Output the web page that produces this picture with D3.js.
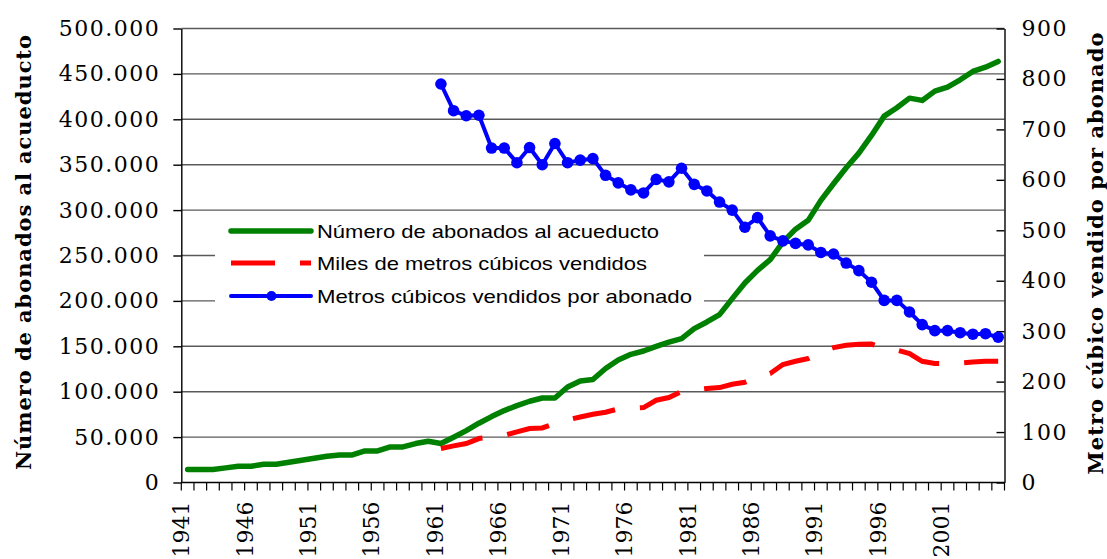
<!DOCTYPE html>
<html>
<head>
<meta charset="utf-8">
<script src="https://cdn.jsdelivr.net/npm/d3@7"></script>
<style>
  body { margin: 0; background: #fff; }
  svg { display: block; }
</style>
</head>
<body>
<svg id="chart" width="1107" height="559"></svg>
<script>
// categories
const years = d3.range(1941, 2006);
const firstYearVentas = 1961;

// Número de abonados al acueducto (1941-2005)
const abonados = [
    14300, 14300, 14300, 16100, 17900, 17900, 20100, 20100, 22300, 24500,
    26700, 28900, 30400, 30400, 34800, 34800, 39200, 39200, 42900, 45400,
    42900, 49900, 57200, 65300, 72600, 79200, 84700, 89500, 93100, 93100,
    105200, 111800, 113400, 125500, 135000, 141200, 144800, 150000, 154700, 158500,
    169500, 176800, 184900, 202500, 219700, 233600, 245400, 264800, 279000, 288700,
    310700, 329000, 346700, 362800, 382200, 403500, 412700, 423300, 420800, 431000,
    435400, 443500, 452700, 457400, 463700
];

// Miles de metros cúbicos vendidos (1961-2005)
const milesM3 = [
    37400, 40300, 42900, 48400, 50200, 52000, 55700, 59400, 60100, 65000,
    69000, 72200, 75200, 77400, 81000, 81800, 82500, 90600, 93600, 100200,
    102000, 103500, 104500, 108200, 110400, 116000, 120000, 129900, 133500, 136500,
    143700, 148600, 151100, 152200, 152500, 148000, 146000, 142000, 133500, 131000,
    131000, 131600, 132700, 133500, 133500
];

// Metros cúbicos vendidos por abonado (1961-2005)
const m3PorAbonado = [
    790, 737, 727, 728, 663, 663, 634, 664, 630, 672,
    634, 639, 642, 609, 594, 580, 574, 601, 596, 623,
    591, 578, 556, 540, 506, 525, 489, 479, 474, 471,
    456, 453, 435, 420, 397, 361, 361, 338, 313, 301,
    301, 297, 294, 295, 288
];

const leftTicks = [0, 50000, 100000, 150000, 200000, 250000, 300000, 350000, 400000, 450000, 500000];
const rightTicks = [0, 100, 200, 300, 400, 500, 600, 700, 800, 900];
const xLabelYears = [1941, 1946, 1951, 1956, 1961, 1966, 1971, 1976, 1981, 1986, 1991, 1996, 2001];

const seriesNames = [
    "Número de abonados al acueducto",
    "Miles de metros cúbicos vendidos",
    "Metros cúbicos vendidos por abonado"
];

const svg = d3.select("#chart");
const plot = { left: 181.3, right: 1004.5, top: 28.5, bottom: 482.5 };
const serif = "'DejaVu Serif', 'Liberation Serif', serif";

const x = d3.scaleBand().domain(years).range([plot.left, plot.right]);
const xc = (yr) => x(yr) + x.bandwidth() / 2;
const yL = d3.scaleLinear().domain([0, 500000]).range([plot.bottom, plot.top]);
const yR = d3.scaleLinear().domain([0, 900]).range([plot.bottom, plot.top]);

const green = abonados.map((v, i) => ({ year: years[i], v }));
const red = milesM3.map((v, i) => ({ year: firstYearVentas + i, v }));
const blue = m3PorAbonado.map((v, i) => ({ year: firstYearVentas + i, v }));

// gridlines
svg.append("g")
    .selectAll("line")
    .data(leftTicks.filter((d) => d > 0))
    .enter()
    .append("line")
    .attr("x1", plot.left)
    .attr("x2", plot.right)
    .attr("y1", (d) => yL(d))
    .attr("y2", (d) => yL(d))
    .attr("stroke", "#5a5a5a")
    .attr("stroke-width", 1.4);

// left axis
const fmt = (d) => d3.format(",")(d).replace(/,/g, ".");
const leftAxis = svg.append("g")
    .attr("transform", `translate(${plot.left},0)`)
    .call(d3.axisLeft(yL).tickValues(leftTicks).tickSize(8).tickSizeOuter(0).tickPadding(13).tickFormat(fmt));
leftAxis.selectAll("text")
    .style("font-family", serif)
    .style("font-size", "22px")
    .style("letter-spacing", "1.5px")
    .attr("fill", "#000");

// right axis (ticks point inward)
const rightAxis = svg.append("g")
    .attr("transform", `translate(${plot.right},0)`)
    .call(d3.axisRight(yR).tickValues(rightTicks).tickSize(-8).tickSizeOuter(0).tickPadding(17));
rightAxis.selectAll("text")
    .style("font-family", serif)
    .style("font-size", "22px")
    .style("letter-spacing", "1.5px")
    .attr("fill", "#000");
svg.selectAll(".domain, .tick line").attr("stroke", "#000").attr("stroke-width", 1.4);

// bottom axis: ticks at every category boundary
const bounds = years.map((yr) => x(yr)).concat([plot.right]);
const bottom = svg.append("g");
bottom.append("line")
    .attr("x1", plot.left).attr("x2", plot.right)
    .attr("y1", plot.bottom).attr("y2", plot.bottom)
    .attr("stroke", "#000").attr("stroke-width", 1.4);
bottom.selectAll("line.tk")
    .data(bounds)
    .enter()
    .append("line")
    .attr("class", "tk")
    .attr("x1", (d) => d).attr("x2", (d) => d)
    .attr("y1", plot.bottom).attr("y2", plot.bottom + 8)
    .attr("stroke", "#000").attr("stroke-width", 1.2);
bottom.selectAll("text")
    .data(xLabelYears)
    .enter()
    .append("text")
    .attr("transform", (d) => `translate(${x(d)},${plot.bottom + 19}) rotate(-90)`)
    .attr("text-anchor", "end")
    .attr("dy", "0.36em")
    .style("font-family", serif)
    .style("font-size", "22px")
    .text((d) => d);

// axis titles
svg.append("text")
    .attr("transform", "translate(31,252.5) rotate(-90)")
    .attr("text-anchor", "middle")
    .attr("textLength", 435)
    .style("font-family", serif)
    .style("font-weight", "bold")
    .style("font-size", "21px")
    .text("Número de abonados al acueducto");
svg.append("text")
    .attr("transform", "translate(1103,253.5) rotate(-90)")
    .attr("text-anchor", "middle")
    .attr("textLength", 442)
    .style("font-family", serif)
    .style("font-weight", "bold")
    .style("font-size", "21px")
    .text("Metro cúbico vendido por abonado");

// series
const lineL = d3.line().x((d) => xc(d.year)).y((d) => yL(d.v));
const lineR = d3.line().x((d) => xc(d.year)).y((d) => yR(d.v));

svg.append("path")
    .datum(green)
    .attr("d", lineL)
    .attr("fill", "none")
    .attr("stroke", "#008000")
    .attr("stroke-width", 5.5)
    .attr("stroke-linejoin", "round")
    .attr("stroke-linecap", "round");

svg.append("path")
    .datum(red)
    .attr("d", lineL)
    .attr("fill", "none")
    .attr("stroke", "#ff0000")
    .attr("stroke-width", 5)
    .attr("stroke-dasharray", "43,25");

svg.append("path")
    .datum(blue)
    .attr("d", lineR)
    .attr("fill", "none")
    .attr("stroke", "#0000ff")
    .attr("stroke-width", 4)
    .attr("stroke-linejoin", "round");
svg.append("g")
    .selectAll("circle")
    .data(blue)
    .enter()
    .append("circle")
    .attr("cx", (d) => xc(d.year))
    .attr("cy", (d) => yR(d.v))
    .attr("r", 5.8)
    .attr("fill", "#0000ff");

// legend
const legend = svg.append("g");
legend.append("rect")
    .attr("x", 215).attr("y", 213)
    .attr("width", 489).attr("height", 92)
    .attr("fill", "#fff");
const rowsY = [231, 263, 296];
const textLen = [342, 330, 375];
legend.append("line")
    .attr("x1", 231).attr("x2", 311).attr("y1", rowsY[0]).attr("y2", rowsY[0])
    .attr("stroke", "#008000").attr("stroke-width", 5.5).attr("stroke-linecap", "round");
legend.append("line")
    .attr("x1", 231).attr("x2", 311).attr("y1", rowsY[1]).attr("y2", rowsY[1])
    .attr("stroke", "#ff0000").attr("stroke-width", 5).attr("stroke-dasharray", "44,25");
legend.append("line")
    .attr("x1", 231).attr("x2", 311).attr("y1", rowsY[2]).attr("y2", rowsY[2])
    .attr("stroke", "#0000ff").attr("stroke-width", 4).attr("stroke-linecap", "round");
legend.append("circle")
    .attr("cx", 271.5).attr("cy", rowsY[2]).attr("r", 5)
    .attr("fill", "#0000ff");
legend.selectAll("text")
    .data(seriesNames)
    .enter()
    .append("text")
    .attr("x", 317)
    .attr("y", (d, i) => rowsY[i] + 6.5)
    .attr("textLength", (d, i) => textLen[i])
    .attr("lengthAdjust", "spacingAndGlyphs")
    .style("font-family", "'Liberation Sans', Arial, sans-serif")
    .style("font-size", "18.5px")
    .text((d) => d);
</script>
</body>
</html>
